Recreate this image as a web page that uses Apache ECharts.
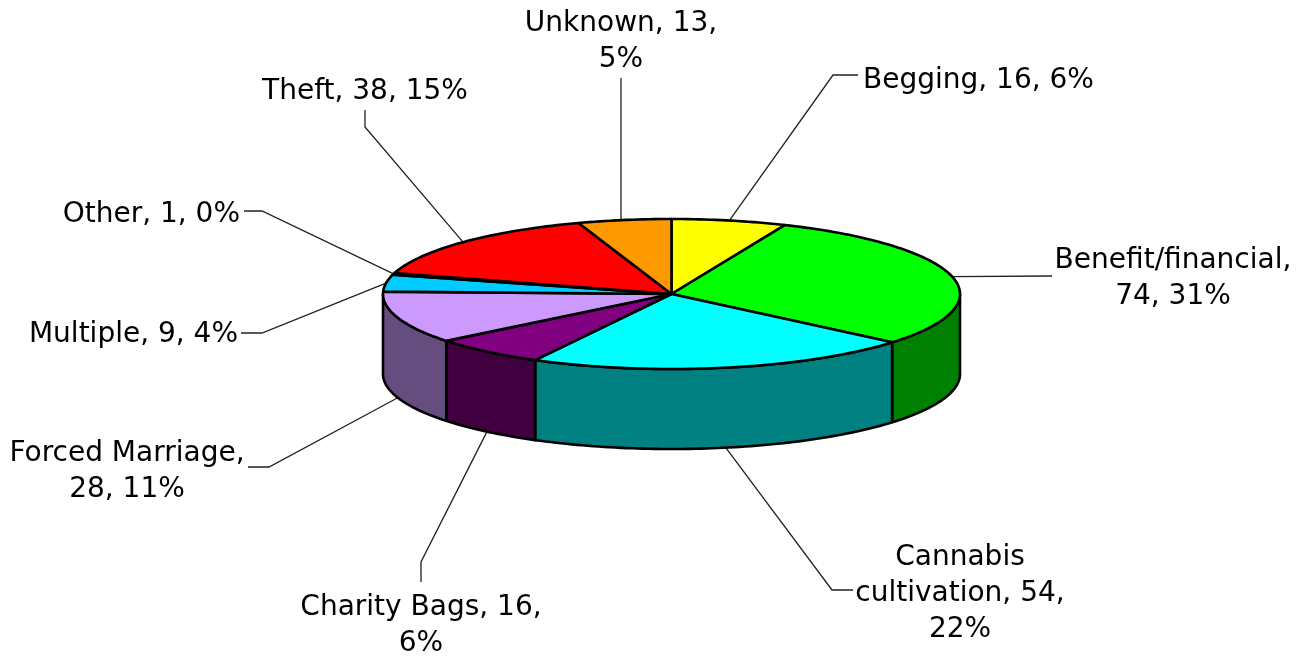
<!DOCTYPE html>
<html>
<head>
<meta charset="utf-8">
<title>Pie</title>
<script src="https://cdn.jsdelivr.net/npm/echarts@6/dist/echarts.min.js"></script>
<style>
html, body { margin: 0; padding: 0; background: #fff; }
#main { width: 1302px; height: 657px; }
</style>
</head>
<body>
<div id="main"></div>
<script>
var categories = ['Begging', 'Benefit/financial', 'Cannabis cultivation', 'Charity Bags', 'Forced Marriage', 'Multiple', 'Other', 'Theft', 'Unknown'];
var values = [16, 74, 54, 16, 28, 9, 1, 38, 13];
var labelText = [
    'Begging, 16, 6%',
    'Benefit/financial,\n74, 31%',
    'Cannabis\ncultivation, 54,\n22%',
    'Charity Bags, 16,\n6%',
    'Forced Marriage,\n28, 11%',
    'Multiple, 9, 4%',
    'Other, 1, 0%',
    'Theft, 38, 15%',
    'Unknown, 13,\n5%'
];
var topColors = ['#ffff00', '#00ff00', '#00ffff', '#800080', '#cc99ff', '#00ccff', '#000080', '#ff0000', '#ff9900'];
var sideColors = ['#808000', '#008000', '#008080', '#400040', '#664d80', '#006680', '#000040', '#800000', '#804d00'];

// ellipse of the pie top and height of the wall
var cx = 671.5, cy = 294, rx = 288.5, ry = 75, depth = 80;
var fontStr = '28px "DejaVu Sans"';

// where each label sits and the bends of its leader line, same order as categories
var labelPos = [
    {x: 863, y: 81, align: 'left', bend: [[833, 75], [858, 75]]},
    {x: 1173, y: 279, align: 'center', bend: [[1052, 276]]},
    {x: 960, y: 594, align: 'center', bend: [[832, 590], [853, 590]]},
    {x: 421, y: 626, align: 'center', bend: [[421, 562], [421, 582]]},
    {x: 127, y: 472, align: 'center', bend: [[269, 467], [248, 467]]},
    {x: 238, y: 335, align: 'right', bend: [[262, 333], [241, 333]]},
    {x: 240, y: 215, align: 'right', bend: [[262, 211], [244, 211]]},
    {x: 365, y: 92, align: 'center', bend: [[365, 127], [365, 110]]},
    {x: 621, y: 42, align: 'center', fromX: 621, bend: [[621, 78]]}
];

var total = 0;
var startValue = [];
for (var i = 0; i < values.length; i++) {
    startValue.push(total);
    total += values[i];
}

function angleOf(sum) {
    return sum / total * Math.PI * 2;
}
function pointAt(t, down) {
    return [cx + rx * Math.sin(t), cy - ry * Math.cos(t) + (down || 0)];
}
function arc(a, b, down) {
    var pts = [];
    var n = Math.max(2, Math.ceil((b - a) / 0.02));
    for (var k = 0; k <= n; k++) {
        pts.push(pointAt(a + (b - a) * k / n, down));
    }
    return pts;
}

function renderTop(params, api) {
    var i = params.dataIndex;
    var a = angleOf(startValue[i]);
    var b = a + angleOf(api.value(0));
    return {
        type: 'polygon',
        shape: {points: [[cx, cy]].concat(arc(a, b))},
        style: {fill: topColors[i], stroke: '#000', lineWidth: 2.6, lineJoin: 'round'}
    };
}

function renderWall(params, api) {
    var i = params.dataIndex;
    var a = Math.max(angleOf(startValue[i]), Math.PI / 2);
    var b = Math.min(angleOf(startValue[i]) + angleOf(api.value(0)), Math.PI * 1.5);
    if (b <= a) {
        return null;
    }
    return {
        type: 'polygon',
        shape: {points: arc(a, b).concat(arc(a, b, depth).reverse())},
        style: {fill: sideColors[i], stroke: '#000', lineWidth: 2.6, lineJoin: 'round'}
    };
}

function renderLabel(params, api) {
    var i = params.dataIndex;
    var mid = angleOf(startValue[i]) + angleOf(api.value(0)) / 2;
    // leader starts on the rim, or on the bottom of the wall for the front slices
    var onFront = mid > Math.PI / 2 && mid < Math.PI * 1.5;
    var start = pointAt(mid, onFront ? depth : 0);
    var pos = labelPos[i];
    if (pos.fromX) {
        start[0] = pos.fromX;
    }
    return {
        type: 'group',
        children: [
            {
                type: 'polyline',
                shape: {points: [start].concat(pos.bend)},
                style: {fill: null, stroke: '#222', lineWidth: 1.3}
            },
            {
                type: 'text',
                style: {
                    text: labelText[i],
                    x: pos.x,
                    y: pos.y,
                    align: pos.align,
                    verticalAlign: 'middle',
                    font: fontStr,
                    lineHeight: 36,
                    fill: '#000'
                }
            }
        ]
    };
}

var chart = echarts.init(document.getElementById('main'));
var option = {
    backgroundColor: '#fff',
    animation: false,
    series: [
        {type: 'custom', name: 'labels', coordinateSystem: 'none', silent: true, z: 1, renderItem: renderLabel, data: values.map(function (v) { return [v]; })},
        {type: 'custom', name: 'walls', coordinateSystem: 'none', silent: true, z: 2, renderItem: renderWall, data: values.map(function (v) { return [v]; })},
        {type: 'custom', name: 'tops', coordinateSystem: 'none', silent: true, z: 3, renderItem: renderTop, data: values.map(function (v, i) { return {name: categories[i], value: [v]}; })}
    ]
};
chart.setOption(option);
</script>
</body>
</html>
